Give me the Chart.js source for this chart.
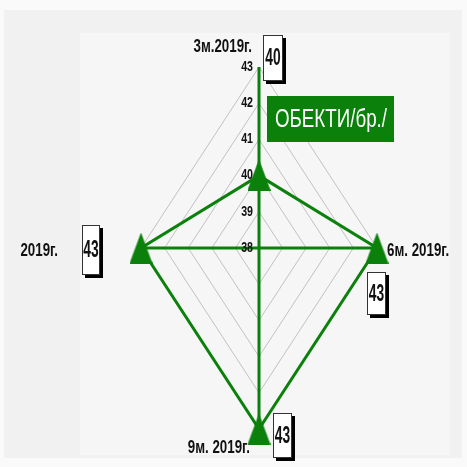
<!DOCTYPE html>
<html>
<head>
<meta charset="utf-8">
<script src="https://cdn.jsdelivr.net/npm/chart.js@4"></script>
<style>
  html, body { margin: 0; padding: 0; background: #f3f3f3; }
  canvas { display: block; }
</style>
</head>
<body>
<canvas id="radar" width="467" height="467"></canvas>
<script>
// data
const categories = ['3м.2019г.', '6м. 2019г.', '9м. 2019г.', '2019г.'];
const objects = [40, 43, 43, 43];
const tickValues = [38, 39, 40, 41, 42, 43];
const seriesTitle = 'ОБЕКТИ/бр./';
const scaleMin = 38;
const scaleMax = 43;

const green = '#0b800b';
const fontFamily = '"Liberation Sans", Arial, sans-serif';

// spoke i points up, right, down, left; value measured from scaleMin at the centre
function polar(i, v) {
    const r = v - scaleMin;
    const a = i * Math.PI / 2;
    return { x: r * Math.sin(a), y: r * Math.cos(a) };
}

function loop(values) {
    const pts = values.map((v, i) => polar(i, v));
    pts.push(pts[0]);
    return pts;
}

// tall triangle marker
const tri = document.createElement('canvas');
tri.width = 23;
tri.height = 31;
const tctx = tri.getContext('2d');
tctx.fillStyle = green;
tctx.beginPath();
tctx.moveTo(11.5, 0);
tctx.lineTo(23, 31);
tctx.lineTo(0, 31);
tctx.closePath();
tctx.fill();

const datasets = [];
datasets.push({
    label: seriesTitle,
    data: loop(objects),
    showLine: true,
    borderColor: green,
    backgroundColor: green,
    borderWidth: 3,
    pointStyle: tri,
    pointRadius: 10,
    clip: false,
    order: 0
});
categories.forEach((c, i) => {
    datasets.push({
        data: [polar(i, scaleMin), polar(i, scaleMax)],
        showLine: true,
        borderColor: green,
        borderWidth: 3,
        pointRadius: 0,
        clip: false,
        order: 1
    });
});
tickValues.slice(1).forEach(t => {
    datasets.push({
        data: loop(categories.map(() => t)),
        showLine: true,
        borderColor: '#c2c2c2',
        borderWidth: 1,
        pointRadius: 0,
        clip: false,
        order: 2
    });
});

// where the category label and value box sit around each axis end
const placement = [
    { label: [-7, -20, 'right'], box: [4, -32, 20, 46] },
    { label: [10, 3, 'left'], box: [-10, 24, 19, 43] },
    { label: [-9, 19, 'right'], box: [14, -16, 19, 45] },
    { label: [-83, 3, 'right'], box: [-59, -23, 18, 50] }
];

function squeezeText(ctx, text, x, y, font, align, sx, color) {
    ctx.save();
    ctx.font = font;
    ctx.fillStyle = color;
    ctx.textBaseline = 'middle';
    ctx.textAlign = align;
    ctx.translate(x, y);
    ctx.scale(sx, 1);
    ctx.fillText(text, 0, 0);
    ctx.restore();
}

const backdrop = {
    id: 'backdrop',
    beforeDraw(chart) {
        const ctx = chart.ctx;
        ctx.save();
        ctx.fillStyle = '#fafafa';
        ctx.fillRect(0, 0, chart.width, chart.height);
        ctx.fillStyle = '#f1f1f1';
        ctx.fillRect(4, 10, 458, 448);
        ctx.fillStyle = '#f6f6f6';
        ctx.fillRect(80, 33, 370, 422);
        ctx.restore();
    }
};

const labels = {
    id: 'labels',
    afterDatasetsDraw(chart) {
        const ctx = chart.ctx;
        const xs = chart.scales.x;
        const ys = chart.scales.y;
        const cx = xs.getPixelForValue(0);

        tickValues.forEach(t => {
            squeezeText(ctx, String(t), cx - 6, ys.getPixelForValue(t - scaleMin),
                'bold 14px ' + fontFamily, 'right', 0.76, '#111');
        });

        categories.forEach((c, i) => {
            const end = polar(i, scaleMax);
            const px = xs.getPixelForValue(end.x);
            const py = ys.getPixelForValue(end.y);
            const p = placement[i];
            squeezeText(ctx, c, px + p.label[0], py + p.label[1],
                'bold 18px ' + fontFamily, p.label[2], 0.74, '#111');

            const [bx, by, bw, bh] = p.box;
            const x0 = px + bx, y0 = py + by;
            ctx.save();
            ctx.fillStyle = '#000';
            ctx.fillRect(x0 + 3, y0 + 3, bw, bh);
            ctx.fillStyle = '#fff';
            ctx.fillRect(x0, y0, bw, bh);
            ctx.strokeStyle = '#333';
            ctx.lineWidth = 1;
            ctx.strokeRect(x0 + 0.5, y0 + 0.5, bw - 1, bh - 1);
            ctx.restore();
            squeezeText(ctx, String(objects[i]), x0 + bw / 2, y0 + bh / 2 + 1,
                'bold 23px ' + fontFamily, 'center', 0.6, '#111');
        });

        // series title box
        const area = chart.chartArea;
        const tx = area.left + 126, ty = area.top + 29;
        ctx.save();
        ctx.fillStyle = green;
        ctx.fillRect(tx, ty, 127, 46);
        ctx.restore();
        squeezeText(ctx, seriesTitle, tx + 64, ty + 24, '25px ' + fontFamily, 'center', 0.75, '#fff');
    }
};

new Chart(document.getElementById('radar').getContext('2d'), {
    type: 'scatter',
    data: { datasets: datasets },
    options: {
        responsive: false,
        animation: false,
        layout: { padding: { left: 141, right: 90, top: 67, bottom: 38 } },
        plugins: {
            legend: { display: false },
            tooltip: { enabled: false }
        },
        scales: {
            x: { type: 'linear', display: false, min: scaleMin - scaleMax, max: scaleMax - scaleMin },
            y: { type: 'linear', display: false, min: scaleMin - scaleMax, max: scaleMax - scaleMin }
        }
    },
    plugins: [backdrop, labels]
});
</script>
</body>
</html>
